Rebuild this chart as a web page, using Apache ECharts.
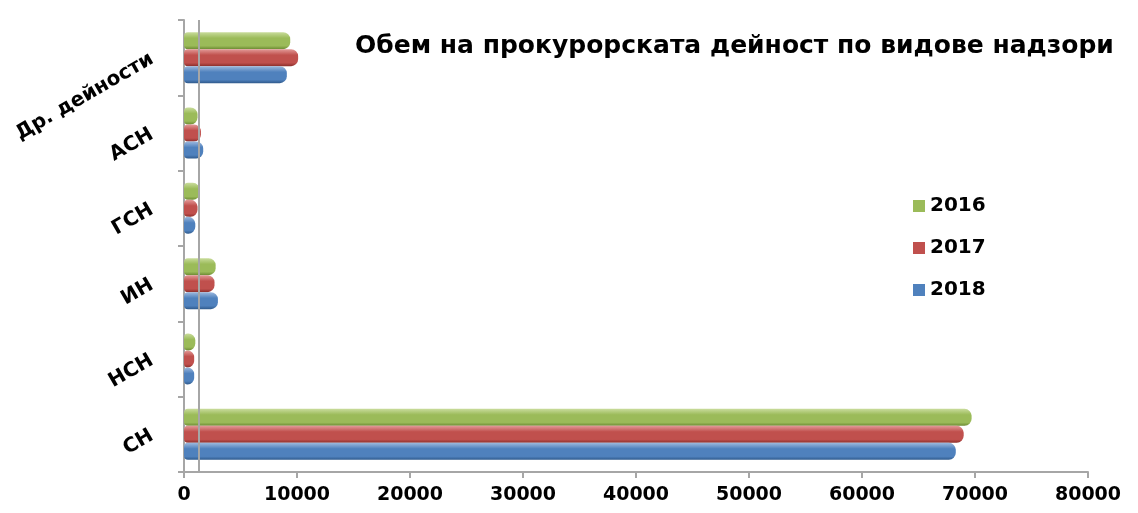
<!DOCTYPE html>
<html>
<head>
<meta charset="utf-8">
<script src="https://cdn.jsdelivr.net/npm/echarts@6/dist/echarts.min.js"></script>
<style>
  html, body { margin: 0; padding: 0; background: #fff; }
  #chart { width: 1138px; height: 513px; }
</style>
</head>
<body>
<div id="chart"></div>
<script>
  /* категории (отдолу нагоре) */
  var categories = ['СН', 'НСН', 'ИН', 'ГСН', 'АСН', 'Др. дейности']
  var years = ['2016', '2017', '2018']
  var values2016 = [69700, 1000, 2800, 1400, 1200, 9400]
  var values2017 = [69000, 900, 2700, 1200, 1500, 10100]
  var values2018 = [68300, 900, 3000, 1000, 1700, 9100]
  var xTicks = { min: 0, max: 80000, interval: 10000 }

  var chartFont = 'DejaVu Sans'
  var yearColors = { '2016': '#9bbb59', '2017': '#c0504d', '2018': '#4f81bd' }

  // цилиндричен вид - градиент по височината на бара
  function cylinder(light, base, dark) {
    return {
      type: 'linear', x: 0, y: 0, x2: 0, y2: 1,
      colorStops: [
        { offset: 0, color: light },
        { offset: 0.35, color: base },
        { offset: 0.8, color: base },
        { offset: 1, color: dark }
      ]
    }
  }

  function barSeries(name, data, grad) {
    return {
      name: name,
      type: 'bar',
      data: data,
      barWidth: 17,
      barGap: '0%',
      itemStyle: {
        color: grad,
        borderRadius: [4, 7, 7, 4]
      }
    }
  }

  var series = [
    barSeries('2016', values2016, cylinder('#c9dc9c', '#9bbb59', '#6c8a33')),
    barSeries('2017', values2017, cylinder('#e39a98', '#c0504d', '#8c2f2c')),
    barSeries('2018', values2018, cylinder('#9db9de', '#4f81bd', '#2f5a8c'))
  ]
  /*  задна стена */
  series[0].markLine = {
    silent: true,
    symbol: 'none',
    label: { show: false },
    lineStyle: { color: '#a6a6a6', width: 2, type: 'solid' },
    data: [{ xAxis: 1300 }]
  }

  var option = {
    backgroundColor: '#fff',
    animation: false,
    title: {
      text: 'Обем на прокурорската дейност по видове надзори',
      left: 350,
      top: 29,
      textStyle: {
        fontFamily: chartFont,
        fontSize: 25,
        fontWeight: 'bold',
        color: '#000'
      }
    },
    legend: {
      data: years.map(function (y) {
        return { name: y, itemStyle: { color: yearColors[y] } }
      }),
      orient: 'vertical',
      left: 908,
      top: 191,
      itemWidth: 12,
      itemHeight: 12,
      itemGap: 22,
      icon: 'rect',
      textStyle: {
        fontFamily: chartFont,
        fontSize: 20,
        fontWeight: 'bold',
        color: '#000'
      }
    },
    grid: {
      left: 184,
      right: 50,
      top: 20,
      bottom: 41,
      containLabel: false
    },
    xAxis: {
      type: 'value',
      min: xTicks.min,
      max: xTicks.max,
      interval: xTicks.interval,
      axisLine: { show: true, lineStyle: { color: '#a6a6a6', width: 2 } },
      axisTick: { show: true, length: 6, lineStyle: { color: '#a6a6a6', width: 2 } },
      splitLine: { show: false },
      axisLabel: {
        margin: 14,
        formatter: function (v) { return String(v) },
        fontFamily: chartFont,
        fontSize: 19,
        fontWeight: 'bold',
        color: '#000'
      }
    },
    yAxis: {
      type: 'category',
      data: categories,
      axisLine: { show: true, lineStyle: { color: '#a6a6a6', width: 2 } },
      axisTick: { show: true, length: 6, lineStyle: { color: '#a6a6a6', width: 2 } },
      axisLabel: {
        rotate: 30,
        margin: 32,
        fontFamily: chartFont,
        fontSize: 20,
        fontWeight: 'bold',
        color: '#000'
      }
    },
    series: series
  }

  var chart = echarts.init(document.getElementById('chart'))
  chart.setOption(option)
</script>
</body>
</html>
